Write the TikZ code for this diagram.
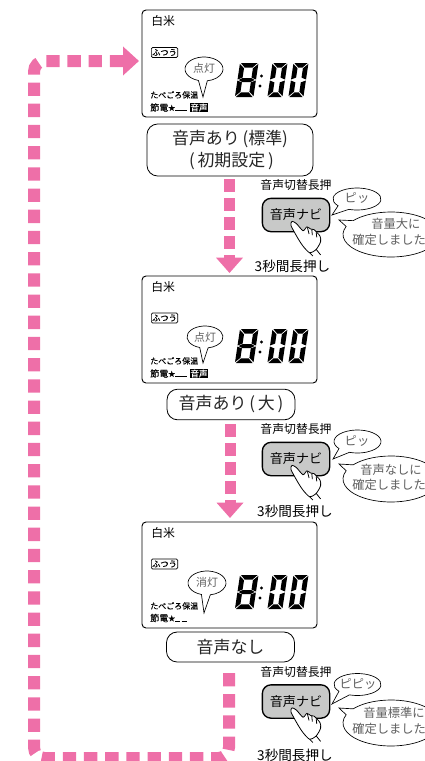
\documentclass[tikz,border=0pt]{standalone}
\usepackage{fontspec}
\setmainfont{Noto Sans CJK JP}
\newfontfamily\lcdfont[FakeBold=0.35]{Noto Sans CJK JP}
\usetikzlibrary{arrows.meta,calc}

\definecolor{flowpink}{RGB}{238,111,168}
\definecolor{navigray}{RGB}{200,201,200}
\definecolor{saygray}{RGB}{95,95,95}

\tikzset{
  panel/.style={draw,line width=0.7pt,rounded corners=3pt},
  flow/.style={draw=flowpink,line width=8.25pt,dash pattern=on 9.75pt off 4.5pt,-{Triangle[length=11.5pt,width=19.5pt,fill=flowpink]}},
  loopline/.style={draw=flowpink,line width=9pt,rounded corners=8pt,dash pattern=on 10pt off 5.9pt,-{Triangle[length=12pt,width=21pt,fill=flowpink]}},
  modebox/.style={draw,line width=0.6pt,rounded corners=8pt,inner sep=0pt,align=center,text=black!85,font=\fontsize{12.7}{17}\selectfont},
  navibutton/.style={draw,fill=navigray,line width=1pt,rounded corners=6.5pt,minimum width=50.5pt,minimum height=25pt,inner sep=0pt,font=\fontsize{9.8}{12}\selectfont},
  bubble/.style={draw,fill=white,line width=0.5pt},
  saytext/.style={text=saygray,inner sep=0pt,font=\fontsize{9.2}{11}\selectfont},
  lamptext/.style={text=saygray,inner sep=0pt,font=\fontsize{8.2}{9}\selectfont},
  small/.style={inner sep=0pt,font=\fontsize{8.9}{10}\selectfont},
  timetext/.style={inner sep=0pt,font=\fontsize{10.2}{12}\selectfont},
  lcdtext/.style={inner sep=0pt,font=\lcdfont\fontsize{6}{7}\selectfont},
  savetext/.style={inner sep=0pt,anchor=west,font=\lcdfont\fontsize{6.8}{7}\selectfont},
  onairbox/.style={fill=black,text=white,inner sep=0.5pt,font=\lcdfont\fontsize{6.4}{7}\selectfont},
  fubox/.style={draw,line width=0.5pt,rounded corners=1pt,inner xsep=0.6pt,inner ysep=1.2pt,font=\lcdfont\fontsize{6.2}{7}\selectfont,anchor=west},
}

% tip, centre, x radius, y radius, start angle, span
\newcommand{\talkbubble}[6]{
  \draw[bubble] (#1) -- ($(#2)+(#5:#3 and #4)$) arc[start angle=#5,delta angle=#6,x radius=#3,y radius=#4] -- cycle;
}

% left, top, width
\newcommand{\lcddigit}[4]{
  \begin{scope}[shift={(#1,#2)},xslant=-0.15]
    \pgfmathsetmacro{\W}{#3}
    \pgfmathsetmacro{\R}{#3-4.8}
    \fill (0.9,0) -- (\W-0.9,0) -- (\R-0.6,4.6) -- (5.4,4.6) -- cycle;
    \fill (0.9,34) -- (\W-0.9,34) -- (\R-0.6,29.4) -- (5.4,29.4) -- cycle;
    \fill (0,0.9) -- (4.8,5.3) -- (4.8,14.6) -- (0,16.5) -- cycle;
    \fill (0,33.1) -- (4.8,28.7) -- (4.8,19.4) -- (0,17.5) -- cycle;
    \fill (\W,0.9) -- (\R,5.3) -- (\R,14.6) -- (\W,16.5) -- cycle;
    \fill (\W,33.1) -- (\R,28.7) -- (\R,19.4) -- (\W,17.5) -- cycle;
    #4
  \end{scope}
}

% the time shown in every panel
\newcommand{\lcdclock}[1]{
  \begin{scope}[shift={(0,#1)}]
    \lcddigit{240}{63}{18.5}{\fill (1.2,17) -- (5,15) -- (\W-5,15) -- (\W-1.2,17) -- (\W-5,19) -- (5,19) -- cycle;}
    \lcddigit{272.5}{63}{15}{}
    \lcddigit{293.5}{63}{15}{}
    \fill (261.5,76) circle (1.6);
    \fill (260,86) circle (1.6);
  \end{scope}
}

% finger tip at the given point
\newcommand{\handicon}[2]{
  \begin{scope}[shift={(#1,#2)},scale=1.1]
    \draw[fill=white,line width=0.6pt,line join=round] plot[smooth cycle,tension=0.45] coordinates {(0,-1.5) (4,0.5) (10,7) (13.5,3.5) (17,5.5) (20,6) (23,9) (25.5,12) (26,17) (22,24) (16,27) (10,21) (6,15) (2,8) (-1,2)};
    \draw[line width=0.6pt] (14,4) -- (15.5,10) (18,6) -- (18.5,11) (22,8.5) -- (22.5,13);
    \draw[line width=0.6pt] (22,24) -- (26,29) (16,27) -- (19,30);
  \end{scope}
}

\newcommand{\lcdstar}{\raisebox{0.4pt}{\fontsize{5}{6}\selectfont ★}}

\begin{document}
\begin{tikzpicture}[x=0.75pt,y=0.75pt,yscale=-1,xscale=1]
\useasboundingbox (0,0) rectangle (425,761);
\clip (0,0) rectangle (425,761);

%Loop back to the top panel
\coordinate (loopstart) at (229,673);
\coordinate (loopbr) at (229,758);
\coordinate (loopbl) at (34,758);
\coordinate (looptl) at (34,61);
\coordinate (loopend) at (139,61);
\draw[loopline] (loopstart) -- (loopbr) -- (loopbl) -- (looptl) -- (loopend);

%Panels
\node[panel,minimum width=131.25pt,minimum height=80.25pt,inner sep=0pt] (panela) at (229.5,63.5) {};
\node[panel,minimum width=131.25pt,minimum height=80.25pt,inner sep=0pt] (panelb) at (229.5,329.5) {};
\node[panel,minimum width=131.25pt,minimum height=79.5pt,inner sep=0pt] (panelc) at (229.5,575) {};

\lcdclock{0}
\lcdclock{266}
\lcdclock{512}

%Panel texts
\node[small,anchor=west] (ricea) at (151,21) {白米};
\node[small,anchor=west] (riceb) at (151,287) {白米};
\node[small,anchor=west] (ricec) at (151,533) {白米};
\node[fubox] (fua) at (151,52.5) {ふつう};
\node[fubox] (fub) at (151,318) {ふつう};
\node[fubox] (fuc) at (151,564) {ふつう};
\node[lcdtext,anchor=west] (keepa) at (150,95) {たべごろ保温};
\node[lcdtext,anchor=west] (keepb) at (150,361) {たべごろ保温};
\node[lcdtext,anchor=west] (keepc) at (150,606) {たべごろ保温};
\node[savetext] (savea) at (150,107.5) {節電\lcdstar\rule{9pt}{0.6pt}};
\node[savetext] (saveb) at (150,373.5) {節電\lcdstar\rule{9pt}{0.6pt}};
\node[savetext] (savec) at (150,618) {節電\lcdstar\rule{3.8pt}{0.6pt}\,\rule{3.8pt}{0.6pt}};
\node[onairbox] (onaira) at (199,107.5) {音声};
\node[onairbox] (onairb) at (199,373.5) {音声};

%Lamp bubbles
\talkbubble{203,97}{204,69}{19}{12}{107}{333}
\talkbubble{203,363}{205,337}{18}{11}{107}{333}
\talkbubble{204,613}{207,583}{19}{12}{107}{333}
\node[lamptext] (lampa) at (204,68) {点灯};
\node[lamptext] (lampb) at (205,337) {点灯};
\node[lamptext] (lampc) at (207,582) {消灯};

%Mode boxes
\node[modebox,minimum width=124.5pt,minimum height=39pt] (modea) at (230,150) {音声あり\,(標準)\\\,(\,初期設定\,)};
\node[modebox,minimum width=96pt,minimum height=23pt] (modeb) at (231,404.5) {音声あり\,(\,大\,)};
\node[modebox,minimum width=96pt,minimum height=22.5pt] (modec) at (230.5,647) {音声なし};

%Arrows between the panels
\coordinate (stepa) at (229.5,179);
\coordinate (stepb) at (230,424);
\coordinate (enda) at (229.5,273);
\coordinate (endb) at (230,518);
\draw[flow] (stepa) -- (enda);
\draw[flow] (stepb) -- (endb);

%Button groups
\foreach \g/\gy in {a/0,b/244,c/486.5}{
  \begin{scope}[shift={(0,\gy)}]
    \node[small] (hold\g) at (296,185) {音声切替長押};
    \node[navibutton] (navi\g) at (296,215) {音声ナビ};
    \handicon{292}{223}
  \end{scope}
}

%Voice bubbles
\talkbubble{332,215}{357,199}{24}{11}{142}{328}
\talkbubble{339,220}{391,234.5}{48}{22.5}{218}{343}
\node[saytext] (beepa) at (357,198) {ピッ};
\node[saytext,anchor=west] (saya) at (371,224) {音量大に};
\node[saytext,anchor=west] (sayb) at (352,240) {確定しました};

\talkbubble{333,459}{357.5,441.5}{23.5}{11.5}{142}{328}
\talkbubble{339,464}{391,479}{48}{23}{218}{343}
\node[saytext] (beepb) at (357,441) {ピッ};
\node[saytext,anchor=west] (sayc) at (360,470) {音声なしに};
\node[saytext,anchor=west] (sayd) at (352,485) {確定しました};

\talkbubble{332,704}{357.5,684.5}{23.5}{11}{142}{328}
\talkbubble{339,708}{391,723}{48}{23}{218}{343}
\node[saytext] (beepc) at (358,684) {ピピッ};
\node[saytext,anchor=west] (saye) at (363,713) {音量標準に};
\node[saytext,anchor=west] (sayf) at (352,729) {確定しました};

%Hold labels
\node[timetext] (timea) at (292.5,266) {3秒間長押し};
\node[timetext] (timeb) at (295,511) {3秒間長押し};
\node[timetext] (timec) at (295,755) {3秒間長押し};

\end{tikzpicture}
\end{document}
